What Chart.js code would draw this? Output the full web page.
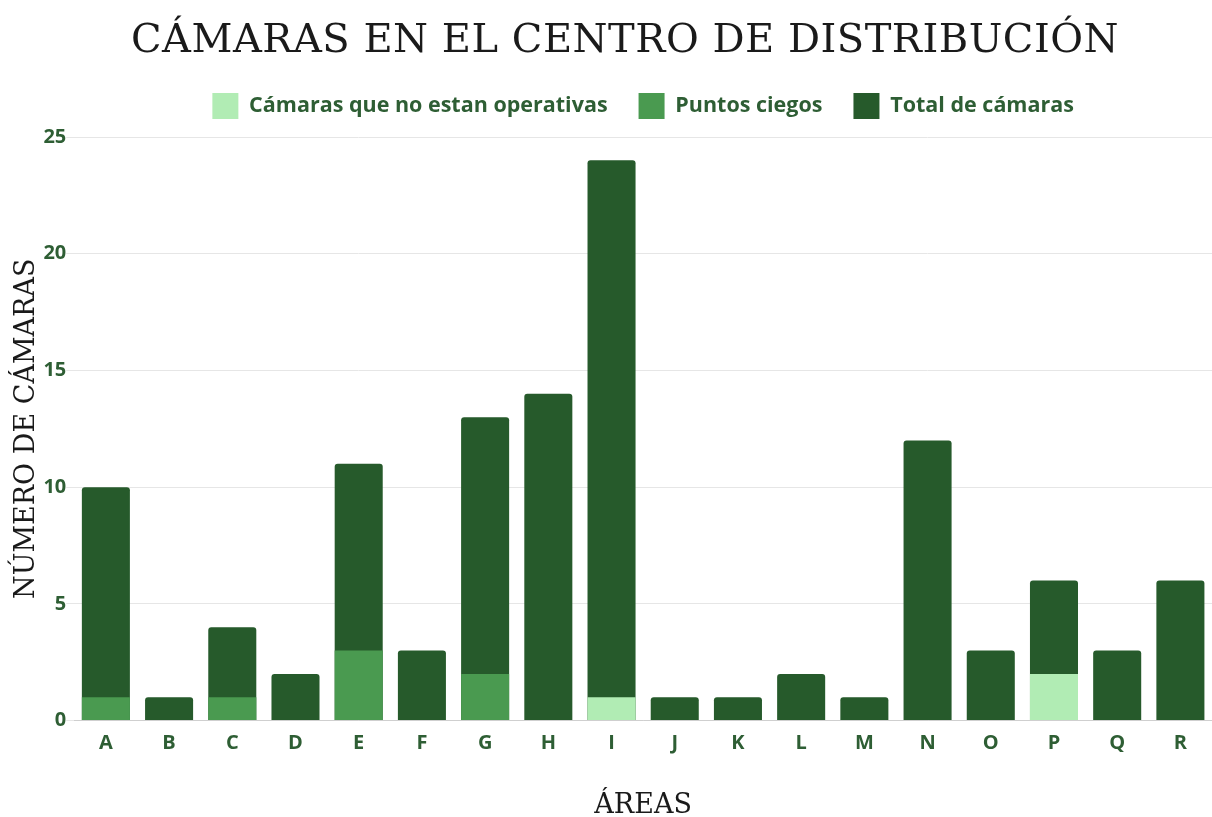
<!DOCTYPE html>
<html>
<head>
<meta charset="utf-8">
<script src="https://cdn.jsdelivr.net/npm/chart.js@4"></script>
<style>
  html, body { margin: 0; padding: 0; background: #fff; }
  #wrap { position: relative; width: 1212px; height: 817px; }
  #titulo {
    position: absolute; top: 15px; left: 19px; width: 1212px; text-align: center;
    font-family: 'DejaVu Serif', serif; font-size: 40px; letter-spacing: 0.5px;
    color: #1a1a1a; font-weight: normal;
  }
</style>
</head>
<body>
<div id="wrap">
  <div id="titulo">CÁMARAS EN EL CENTRO DE DISTRIBUCIÓN</div>
  <canvas id="barChart" width="1212" height="817"></canvas>
</div>
<script>
const areas = ['A','B','C','D','E','F','G','H','I','J','K','L','M','N','O','P','Q','R'];
const noOperativas = [0,0,0,0,0,0,0,0,1,0,0,0,0,0,0,2,0,0];
const puntosCiegos = [1,0,1,0,3,0,2,0,0,0,0,0,0,0,0,0,0,0];
const totalCamaras = [10,1,4,2,11,3,13,14,24,1,1,2,1,12,3,6,3,6];

const verde = '#2e5e34';
const ctx = document.getElementById('barChart').getContext('2d');

// a bit more room under the legend
const legendGap = {
  id: 'legendGap',
  beforeInit(chart) {
    const fit = chart.legend.fit;
    chart.legend.fit = function () {
      fit.bind(chart.legend)();
      this.height += 8;
    };
  }
};

new Chart(ctx, {
  type: 'bar',
  data: {
    labels: areas,
    datasets: [
      {
        label: 'Cámaras que no estan operativas',
        data: noOperativas,
        backgroundColor: '#b1ecb4',
        grouped: false,
        barPercentage: 0.76,
        categoryPercentage: 1
      },
      {
        label: 'Puntos ciegos',
        data: puntosCiegos,
        backgroundColor: '#4a9a50',
        grouped: false,
        barPercentage: 0.76,
        categoryPercentage: 1
      },
      {
        label: 'Total de cámaras',
        data: totalCamaras,
        backgroundColor: '#265a2b',
        borderRadius: { topLeft: 3, topRight: 3 },
        borderSkipped: 'bottom',
        grouped: false,
        barPercentage: 0.76,
        categoryPercentage: 1
      }
    ]
  },
  options: {
    responsive: false,
    animation: false,
    layout: { padding: { top: 62, right: 0, left: 11, bottom: 0 } },
    plugins: {
      legend: {
        display: true,
        fullSize: false,
        labels: {
          boxWidth: 26,
          boxHeight: 26,
          padding: 31,
          color: verde,
          font: { family: 'Open Sans', size: 21.5, weight: 'bold' }
        }
      },
      tooltip: { enabled: false }
    },
    scales: {
      x: {
        grid: { display: false },
        border: { color: '#cfcfcf' },
        ticks: { color: verde, padding: 3, font: { family: 'Open Sans', size: 20, weight: 'bold' } },
        title: {
          display: true,
          text: 'ÁREAS',
          color: '#1a1a1a',
          padding: { top: 31, bottom: -5 },
          font: { family: 'DejaVu Serif', size: 27 }
        }
      },
      y: {
        min: 0,
        max: 25,
        ticks: { stepSize: 5, color: verde, padding: 0, font: { family: 'Open Sans', size: 20, weight: 'bold' } },
        grid: { color: '#e6e6e6' },
        border: { display: false },
        title: {
          display: true,
          text: 'NÚMERO DE CÁMARAS',
          color: '#1a1a1a',
          padding: 0,
          font: { family: 'DejaVu Serif', size: 27 }
        }
      }
    }
  },
  plugins: [legendGap]
});
</script>
</body>
</html>
